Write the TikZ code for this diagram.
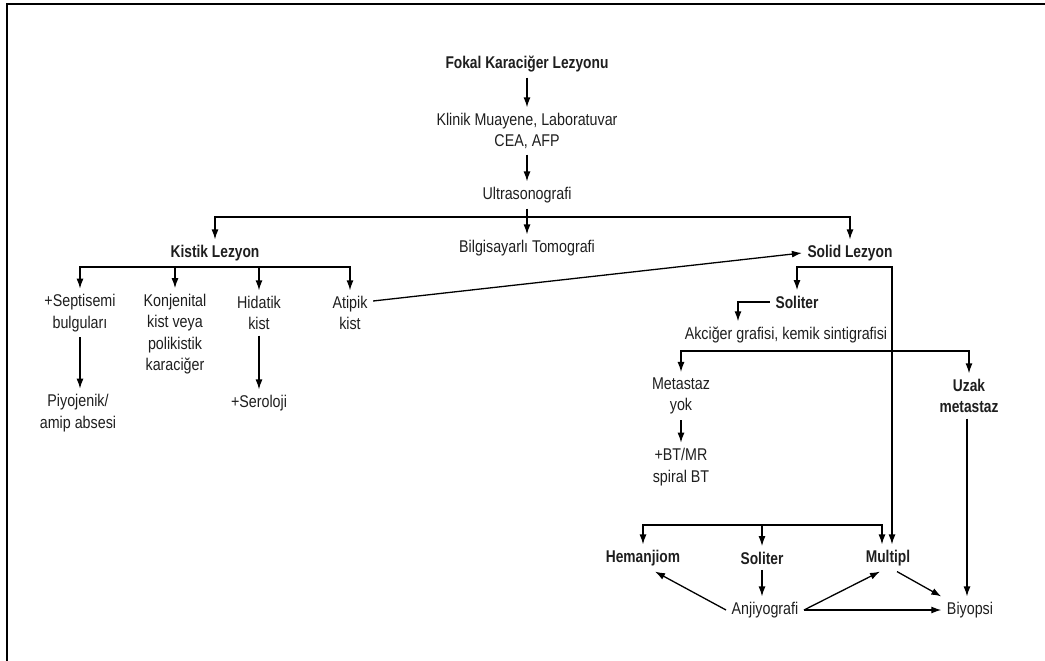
\documentclass[tikz,border=0pt]{standalone}
\usepackage{fontspec}
\usepackage{tikz}
\usetikzlibrary{arrows.meta}
\setmainfont{Liberation Sans}[FakeStretch=0.84]
\newfontfamily\boldnarrow{Liberation Sans Bold}[FakeStretch=0.81]
\newcommand\nodefkl{Fokal Karaciğer Lezyonu}
\newcommand\nodekmu{Klinik Muayene, Laboratuvar\\CEA, AFP}
\newcommand\nodeus{Ultrasonografi}
\newcommand\nodebt{Bilgisayarlı Tomografi}
\newcommand\nodekl{Kistik Lezyon}
\newcommand\nodesl{Solid Lezyon}
\newcommand\nodesep{+Septisemi\\bulguları}
\newcommand\nodekon{Konjenital\\kist veya\\polikistik\\karaciğer}
\newcommand\nodehid{Hidatik\\kist}
\newcommand\nodeatk{Atipik\\kist}
\newcommand\nodepyj{Piyojenik/\\amip absesi}
\newcommand\nodeser{+Seroloji}
\newcommand\nodesol{Soliter}
\newcommand\nodeakc{Akciğer grafisi, kemik sintigrafisi}
\newcommand\nodemty{Metastaz\\yok}
\newcommand\nodeuzm{Uzak\\metastaz}
\newcommand\nodebtm{+BT/MR\\spiral BT}
\newcommand\nodehem{Hemanjiom}
\newcommand\nodemul{Multipl}
\newcommand\nodeanj{Anjiyografi}
\newcommand\nodebyp{Biyopsi}
\definecolor{FontColor}{HTML}{1E1E1E}
\tikzstyle{mynodestyle} = [align=center, inner sep=5pt, text=FontColor, font=\fontsize{17}{21.5}\selectfont]
\tikzstyle{rn} = [mynodestyle]
\tikzstyle{bn} = [mynodestyle, font=\fontsize{17}{21.5}\selectfont\boldnarrow]
\tikzset{>={Latex[length=10pt,width=7pt]}, every picture/.style={line width=1.3pt}}

\begin{document}
\begin{tikzpicture}[x=1pt,y=-1pt]
\useasboundingbox (0,0) rectangle (1045,661);
\draw[line width=2pt] (7,661) -- (7,4) -- (1045,4);
\node[bn] (fkl) at (527, 64) {\nodefkl};
\node[rn] (kmu) at (527, 131) {\nodekmu};
\node[rn] (us) at (527, 195) {\nodeus};
\node[rn] (bt) at (527, 248) {\nodebt};
\node[bn] (kl) at (215, 253) {\nodekl};
\node[bn] (sl) at (850, 253) {\nodesl};
\node[rn] (sep) at (80, 313) {\nodesep};
\node[rn] (kon) at (175, 334) {\nodekon};
\node[rn] (hid) at (259, 313) {\nodehid};
\node[rn] (atk) at (350, 313) {\nodeatk};
\node[rn] (pyj) at (78, 413) {\nodepyj};
\node[rn] (ser) at (259, 403) {\nodeser};
\node[bn] (sol1) at (797, 302) {\nodesol};
\node[rn] (akc) at (786, 335) {\nodeakc};
\node[rn] (mty) at (681, 396) {\nodemty};
\node[bn] (uzm) at (969, 396) {\nodeuzm};
\node[rn] (btm) at (681, 467) {\nodebtm};
\node[bn] (hem) at (643, 558) {\nodehem};
\node[bn] (sol2) at (762, 558) {\nodesol};
\node[bn] (mul) at (888, 558) {\nodemul};
\node[rn] (anj) at (765, 610) {\nodeanj};
\node[rn] (byp) at (970, 610) {\nodebyp};
\coordinate (usb) at (527, 217);
\coordinate (klb) at (215, 267);
\coordinate (slb) at (850, 267);
\coordinate (akb) at (786, 351);
\coordinate (lbr) at (762, 525);
\draw [->] (fkl) -- (kmu);
\draw [->] (kmu) -- (us);
\draw [->] (us) -- (bt);
\draw [->] (usb) -| (kl);
\draw [->] (usb) -| (sl);
\draw [->] (klb) -| (sep);
\draw [->] (klb) -| (kon);
\draw [->] (klb) -| (hid);
\draw [->] (klb) -| (atk);
\draw [->] (sep) -- (pyj.north -| sep);
\draw [->] (hid) -- (ser);
\draw [->] ([yshift=12pt]atk.east) -- (sl.west);
\draw [->] (slb) -| (sol1);
\draw [->] (slb) -| ([xshift=4pt]mul.north);
\draw [->] (sol1.west) -| ([xshift=-48pt]akc.north);
\draw [->] (akb) -| (mty);
\draw [->] (akb) -| (uzm);
\draw [->] (mty) -- (btm);
\draw [->] ([xshift=-2pt]uzm.south) -- ([xshift=-2pt]uzm.south |- byp.north);
\draw [->] (lbr) -| (hem);
\draw [->] (lbr) -- (sol2);
\draw [->] (lbr) -| ([xshift=-6pt]mul.north);
\draw [->] (sol2) -- (sol2 |- anj.north);
\draw [->] (anj.west) -- ([xshift=12pt]hem.south);
\draw [->] (anj.east) -- ([xshift=-8pt]mul.south);
\draw [->] (anj.east) -- (byp.west);
\draw [->] ([xshift=9pt]mul.south) -- (byp.north west);
\end{tikzpicture}
\end{document}
